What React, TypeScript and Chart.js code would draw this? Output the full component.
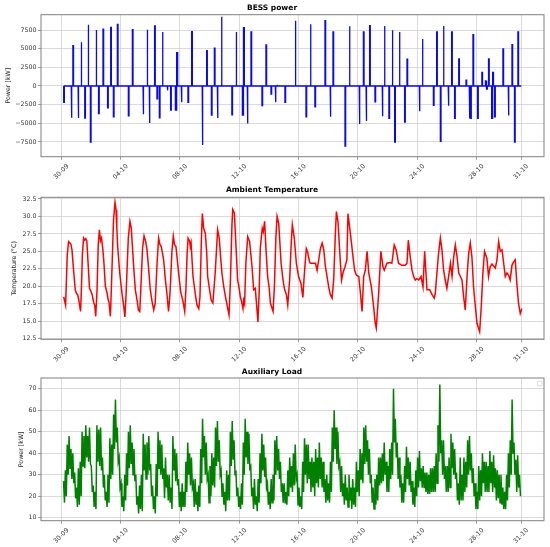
import React, { useEffect, useRef } from 'react';
import { Chart, ChartConfiguration, registerables } from 'chart.js';

Chart.register(...registerables);

const FONT = "'DejaVu Sans', sans-serif";

// x axis: days counted from 30-09 00:00
const dayTicks = [0, 4, 8, 12, 16, 20, 24, 28, 31];
const dayTickLabels = ['30-09', '04-10', '08-10', '12-10', '16-10', '20-10', '24-10', '28-10', '31-10'];

// BESS power: [day, kW] pulses, line sits at 0 between them
const bessEvents: [number, number][] = [
  [0.16, -2200], [0.67, -4260], [0.78, 5420], [1.13, -4300], [1.33, 5860], [1.58, -4300],
  [1.8, 8200], [1.96, -7500], [2.34, 7500], [2.51, -3700], [2.81, 7600], [3.12, -2930],
  [3.33, 7860], [3.51, -4130], [3.78, 8260], [4.52, -4000], [4.79, 7550], [5.51, -3770],
  [5.78, 7550], [5.93, -4970], [6.29, 8040], [6.45, -1730], [6.61, -4260], [6.81, 7240],
  [7.14, -580], [7.37, -3240], [7.69, -3240], [7.8, 4480], [8.09, -2180], [8.54, -2180],
  [8.79, 7280], [9.5, -7900], [9.8, 4750], [10.12, -3900], [10.32, 5060], [10.52, -4300],
  [10.79, 9280], [11.5, -3860], [11.78, 7240], [12.21, -3900], [12.3, 7810], [12.54, -5020],
  [12.79, 7240], [13.53, -2620], [13.8, 5500], [14.14, -1100], [14.43, -2180], [14.55, 180],
  [15.08, -2180], [15.77, 8750], [16.5, -4130], [16.79, 8260], [17.1, -2800], [17.78, 8750],
  [18.13, -4130], [18.32, 7240], [19.13, -8040], [19.42, 7990], [20.09, -5100], [20.37, 7240],
  [20.55, -4700], [20.79, 8080], [21.15, -2130], [21.64, -4040], [21.78, 8040], [22.09, -4350],
  [22.31, 7460], [22.48, -7500], [22.79, 7240], [23.15, -4840], [23.31, 3600], [24.14, -3370],
  [24.34, 6300], [25.09, -2580], [25.31, 7240], [25.56, -7410], [25.76, 8040], [26.09, -2660],
  [26.32, 7240], [26.52, -4350], [26.8, 3640], [27.29, 800], [27.51, -4350], [27.6, -4350],
  [27.76, 6880], [28.07, -4350], [28.36, 1820], [28.6, 670], [28.69, -400], [28.81, 3640],
  [29.02, -4350], [29.1, 1820], [29.22, -4130], [29.78, 4970], [30.14, -3950], [30.39, 5550],
  [30.56, -7500], [30.79, 7240],
];
const bessEndDay = 31.02;
const pulseWidth = 0.045;

// Ambient temperature: [day, °C]
const ambientTemp: [number, number][] = [
  [0.16, 18.5], [0.29, 17.3], [0.4, 24.5], [0.49, 26.4], [0.58, 26.2], [0.65, 26.0], [0.72, 25.2], [0.8, 23.0],
  [0.94, 19.5], [1.02, 19.0], [1.1, 18.8], [1.18, 18.0], [1.23, 17.3], [1.3, 16.4], [1.36, 20.0], [1.42, 24.5],
  [1.5, 26.9], [1.58, 26.6], [1.65, 26.8], [1.72, 26.5], [1.8, 23.5], [1.9, 19.7], [1.98, 19.4],
  [2.08, 18.8], [2.17, 17.8], [2.26, 17.2], [2.32, 15.7], [2.41, 19.5], [2.49, 26.0], [2.57, 28.1], [2.64, 26.5],
  [2.71, 26.9], [2.79, 25.5], [2.86, 23.8], [2.97, 20.0], [3.09, 19.0], [3.15, 18.2], [3.22, 17.6], [3.31, 15.7],
  [3.38, 20.0], [3.52, 29.5], [3.62, 32.0], [3.69, 30.9], [3.74, 28.5], [3.8, 25.7], [3.94, 21.9], [4.09, 19.0],
  [4.2, 17.3], [4.29, 15.6], [4.37, 19.0], [4.52, 27.0], [4.63, 29.3], [4.72, 28.3], [4.8, 25.5], [4.88, 22.8],
  [4.99, 19.5], [5.11, 18.0], [5.2, 16.6], [5.29, 16.4], [5.37, 20.0], [5.48, 25.5], [5.58, 27.2], [5.69, 26.4],
  [5.78, 25.2], [5.87, 23.0], [6.0, 19.5], [6.12, 17.8], [6.23, 16.6], [6.33, 17.5], [6.45, 23.0], [6.56, 26.9],
  [6.65, 26.0], [6.74, 25.7], [6.9, 23.8], [7.01, 21.1], [7.12, 19.0], [7.23, 16.4], [7.33, 19.0], [7.46, 25.0],
  [7.55, 27.2], [7.63, 26.0], [7.73, 25.7], [7.91, 21.9], [8.05, 19.2], [8.21, 17.8], [8.32, 16.4], [8.4, 19.5],
  [8.48, 24.5], [8.55, 26.9], [8.65, 26.5], [8.7, 25.7], [8.75, 26.2], [8.88, 21.4], [9.04, 18.8], [9.15, 17.3],
  [9.27, 16.8], [9.35, 18.5], [9.45, 27.0], [9.51, 30.4], [9.6, 28.3], [9.71, 27.6], [9.8, 25.0], [9.87, 21.4],
  [10.0, 19.5], [10.11, 18.0], [10.22, 17.6], [10.38, 22.0], [10.54, 28.1], [10.65, 26.9], [10.75, 24.0], [10.83, 21.9],
  [10.95, 20.0], [11.07, 18.5], [11.18, 17.3], [11.31, 15.9], [11.4, 20.5], [11.51, 29.0], [11.56, 31.0], [11.67, 30.5],
  [11.78, 25.7], [11.89, 20.9], [12.01, 19.5], [12.07, 18.5], [12.16, 17.8], [12.25, 16.8], [12.3, 18.0], [12.36, 17.5],
  [12.45, 23.5], [12.57, 27.1], [12.7, 26.4], [12.86, 22.8], [12.97, 19.5], [13.08, 19.7], [13.19, 16.8], [13.26, 14.9],
  [13.34, 19.0], [13.42, 25.5], [13.55, 28.3], [13.62, 27.8], [13.71, 29.3], [13.81, 25.0], [13.91, 21.5], [14.03, 19.5],
  [14.1, 17.6], [14.28, 16.4], [14.37, 20.0], [14.47, 27.0], [14.55, 30.0], [14.66, 29.0], [14.82, 23.3], [14.95, 20.9],
  [15.04, 19.7], [15.18, 18.8], [15.27, 17.3], [15.4, 21.0], [15.5, 26.0], [15.58, 28.8], [15.71, 26.9], [15.85, 23.3],
  [16.0, 21.4], [16.16, 20.4], [16.29, 18.4], [16.38, 21.5], [16.52, 25.4], [16.61, 24.9], [16.74, 23.5], [16.79, 23.3],
  [16.97, 23.3], [17.14, 23.3], [17.25, 22.3], [17.36, 23.8], [17.47, 25.4], [17.59, 26.2], [17.7, 25.2], [17.81, 22.8],
  [17.92, 21.4], [18.03, 19.9], [18.14, 18.8], [18.26, 18.3], [18.37, 21.0], [18.47, 27.0], [18.55, 30.7], [18.66, 29.2],
  [18.82, 23.3], [18.9, 20.9], [18.99, 21.9], [19.13, 22.8], [19.26, 23.8], [19.33, 30.4], [19.44, 28.5], [19.53, 26.9],
  [19.67, 24.2], [19.78, 22.3], [19.89, 21.6], [20.06, 21.4], [20.17, 19.0], [20.28, 16.4], [20.39, 21.4], [20.5, 22.3],
  [20.62, 25.0], [20.73, 21.9], [20.91, 19.9], [21.06, 17.1], [21.17, 14.7], [21.24, 14.0], [21.4, 19.0], [21.55, 25.0],
  [21.69, 22.8], [21.78, 22.3], [21.96, 23.3], [22.18, 23.4], [22.29, 23.3], [22.45, 25.9], [22.58, 25.2], [22.74, 23.3],
  [22.96, 23.0], [23.2, 23.0], [23.31, 23.3], [23.4, 26.6], [23.53, 24.2], [23.65, 22.3], [23.76, 21.4], [23.87, 20.9],
  [23.98, 21.1], [24.1, 20.9], [24.26, 21.4], [24.39, 19.9], [24.5, 25.0], [24.59, 21.9], [24.66, 19.5], [24.84, 19.5],
  [25.0, 18.8], [25.15, 18.3], [25.22, 19.0], [25.33, 21.9], [25.44, 24.7], [25.56, 26.9], [25.67, 25.2], [25.78, 22.3],
  [25.89, 20.9], [26.0, 19.7], [26.13, 21.6], [26.24, 23.3], [26.35, 21.4], [26.46, 24.2], [26.57, 25.9], [26.69, 24.2],
  [26.8, 21.9], [26.91, 21.4], [27.02, 20.9], [27.13, 18.5], [27.24, 16.6], [27.36, 21.4], [27.47, 24.7], [27.58, 26.2],
  [27.69, 24.2], [27.8, 19.9], [27.92, 17.1], [28.03, 14.7], [28.21, 13.5], [28.32, 17.1], [28.43, 21.9], [28.54, 25.0],
  [28.7, 24.0], [28.81, 21.4], [28.92, 22.8], [29.04, 23.2], [29.27, 22.6], [29.38, 23.8], [29.49, 26.4], [29.6, 25.0],
  [29.72, 25.2], [29.83, 23.3], [29.94, 21.4], [30.05, 21.9], [30.16, 21.6], [30.27, 20.9], [30.39, 23.0], [30.5, 23.5],
  [30.61, 23.8], [30.72, 20.4], [30.83, 17.6], [30.95, 16.1], [31.06, 16.8],
];

// Auxiliary load, kW: [upper, lower] edge of the noisy band in every 3 h slot from day 0.15
const auxStartDay = 0.15;
const auxStepDays = 0.125;
const auxBand: [number, number][] = [
  [27, 17], [32, 20], [44, 30], [48, 33], [42, 28], [40, 26], [31, 19],
  [24, 15], [33, 16], [36, 20], [50, 34], [48, 33], [53, 38], [48, 36], [52, 35],
  [34, 22], [25, 15], [22, 14], [53, 36], [51, 34], [52, 32], [38, 24], [30, 18],
  [22, 15], [30, 17], [47, 28], [44, 30], [58, 42], [65, 45], [52, 36], [38, 24],
  [26, 15], [20, 13], [30, 18], [40, 25], [50, 33], [53, 35], [45, 30], [42, 27],
  [30, 16], [20, 12], [25, 14], [30, 13], [49, 32], [44, 28], [45, 30], [48, 32],
  [35, 20], [25, 14], [20, 12], [35, 20], [50, 33], [46, 30], [44, 28], [33, 19],
  [38, 24], [30, 18], [30, 17], [24, 14], [48, 32], [42, 27], [40, 25], [28, 15],
  [22, 13], [26, 15], [22, 15], [36, 22], [45, 30], [40, 25], [38, 24], [26, 15],
  [28, 16], [22, 13], [25, 15], [42, 26], [56, 38], [48, 30], [45, 28], [30, 17],
  [34, 20], [40, 25], [38, 24], [52, 34], [55, 36], [46, 30], [32, 20], [26, 16],
  [22, 13], [32, 18], [30, 18], [50, 34], [55, 37], [46, 30], [32, 20], [24, 15],
  [20, 14], [26, 16], [45, 30], [56, 38], [50, 35], [49, 33], [34, 20], [24, 14],
  [28, 16], [20, 13], [28, 17], [40, 26], [49, 32], [44, 29], [38, 24], [26, 16],
  [22, 14], [28, 17], [30, 18], [46, 30], [48, 32], [42, 28], [36, 22], [26, 17],
  [26, 17], [22, 16], [32, 20], [38, 24], [34, 22], [40, 25], [44, 28], [30, 16],
  [24, 15], [20, 14], [36, 22], [47, 30], [44, 26], [44, 28], [36, 22], [38, 24],
  [36, 20], [42, 26], [38, 24], [45, 28], [38, 24], [36, 22], [28, 17], [30, 18],
  [26, 17], [36, 22], [52, 36], [60, 42], [52, 35], [50, 34], [36, 22], [34, 20],
  [26, 16], [30, 18], [24, 15], [30, 18], [24, 14], [28, 16], [24, 15], [36, 22],
  [32, 20], [42, 28], [40, 26], [52, 35], [53, 36], [46, 30], [42, 26], [30, 17],
  [24, 14], [28, 16], [30, 18], [38, 25], [38, 26], [40, 27], [45, 30], [36, 22],
  [34, 22], [42, 28], [45, 30], [70, 45], [56, 38], [45, 28], [38, 24], [30, 17],
  [26, 17], [34, 22], [43, 28], [38, 25], [36, 22], [27, 16], [24, 15], [32, 20],
  [38, 24], [41, 27], [33, 24], [34, 24], [31, 22], [31, 21], [30, 21], [33, 22],
  [33, 22], [34, 22], [40, 26], [53, 36], [72, 40], [46, 30], [46, 28], [34, 22],
  [34, 22], [38, 24], [49, 33], [45, 30], [42, 28], [31, 18], [26, 16], [38, 18],
  [30, 18], [38, 22], [36, 24], [46, 30], [48, 32], [40, 26], [33, 20], [26, 14],
  [22, 14], [34, 18], [32, 20], [40, 26], [36, 22], [36, 22], [34, 22], [41, 26],
  [36, 22], [39, 24], [33, 18], [32, 19], [30, 17], [30, 16], [24, 14], [22, 14],
  [30, 18], [40, 24], [46, 30], [65, 40], [45, 30], [37, 22], [39, 24], [30, 20],
];

const bessTicks = [-7500, -5000, -2500, 0, 2500, 5000, 7500];
const tempTicks = [12.5, 15, 17.5, 20, 22.5, 25, 27.5, 30, 32.5];
const auxTicks = [10, 20, 30, 40, 50, 60, 70];

const X_MIN = -1.37;
const X_MAX = 32.55;

const bessPoints = () => {
  const pts: { x: number; y: number }[] = [];
  for (const [d, v] of bessEvents) {
    pts.push({ x: d, y: 0 }, { x: d, y: v }, { x: d + pulseWidth, y: v }, { x: d + pulseWidth, y: 0 });
  }
  pts.push({ x: bessEndDay, y: 0 });
  return pts;
};

const auxPoints = () => {
  const pts: { x: number; y: number }[] = [];
  auxBand.forEach(([hi, lo], i) => {
    const t = auxStartDay + i * auxStepDays;
    pts.push({ x: t, y: hi }, { x: t + auxStepDays / 2, y: lo });
  });
  return pts;
};

const framePlugin = {
  id: 'frame',
  afterDatasetsDraw(chart: Chart) {
    const { ctx, chartArea: a } = chart;
    ctx.save();
    ctx.strokeStyle = '#808080';
    ctx.lineWidth = 1;
    ctx.strokeRect(a.left, a.top, a.right - a.left, a.bottom - a.top);
    ctx.restore();
  },
};

// matplotlib leaves an empty legend frame in the corner of the last panel
const emptyLegendPlugin = {
  id: 'emptyLegend',
  afterDatasetsDraw(chart: Chart) {
    const { ctx, chartArea: a } = chart;
    ctx.save();
    ctx.fillStyle = '#fff';
    ctx.strokeStyle = '#d6d6d6';
    ctx.lineWidth = 0.8;
    ctx.fillRect(a.right - 6.5, a.top + 3.3, 4.5, 4.5);
    ctx.strokeRect(a.right - 6.5, a.top + 3.3, 4.5, 4.5);
    ctx.restore();
  },
};

interface PanelSpec {
  height: number;
  title: string;
  titleTop: number;
  titleBottom: number;
  xAxisHeight: number;
  yTitle: string;
  yTitleX: number;
  yMin: number;
  yMax: number;
  yTicks: number[];
  fmt: (v: number) => string;
  color: string;
  lineWidth: number;
  data: { x: number; y: number }[];
  legendBox?: boolean;
}

const tickFont = { family: FONT, size: 6.3 };
const gridOpts = { color: '#d0d0d0', lineWidth: 0.8, tickLength: 3, tickColor: '#808080', tickWidth: 0.8 };

function buildConfig(p: PanelSpec): ChartConfiguration {
  return {
    type: 'line',
    data: {
      datasets: [
        {
          data: p.data,
          borderColor: p.color,
          borderWidth: p.lineWidth,
          pointRadius: 0,
          tension: 0,
          fill: false,
        },
      ],
    },
    options: {
      animation: false,
      responsive: false,
      events: [],
      layout: { padding: { left: 0, right: 6, top: 0, bottom: 0 } },
      plugins: {
        legend: { display: false },
        tooltip: { enabled: false },
        title: {
          display: true,
          text: p.title,
          color: '#000',
          font: { family: FONT, size: 7.5, weight: 'bold' },
          padding: { top: p.titleTop, bottom: p.titleBottom },
        },
      },
      scales: {
        x: {
          type: 'linear',
          min: X_MIN,
          max: X_MAX,
          afterBuildTicks: (s: any) => {
            s.ticks = dayTicks.map((v) => ({ value: v }));
          },
          afterFit: (s: any) => {
            s.height = p.xAxisHeight;
          },
          ticks: {
            autoSkip: false,
            minRotation: 45,
            maxRotation: 45,
            labelOffset: 6.5,
            padding: 3,
            color: '#333',
            font: tickFont,
            callback: (v: any) => dayTickLabels[dayTicks.indexOf(Number(v))] ?? '',
          },
          grid: gridOpts,
          border: { display: false },
        },
        y: {
          type: 'linear',
          min: p.yMin,
          max: p.yMax,
          afterBuildTicks: (s: any) => {
            s.ticks = p.yTicks.map((v) => ({ value: v }));
          },
          afterFit: (s: any) => {
            s.width = 41;
          },
          ticks: {
            padding: 1.5,
            color: '#333',
            font: tickFont,
            callback: (v: any) => p.fmt(Number(v)),
          },
          grid: gridOpts,
          border: { display: false },
          title: {
            display: true,
            text: p.yTitle,
            color: '#222',
            font: tickFont,
            padding: { top: p.yTitleX - 3.78, bottom: 0 },
          },
        },
      },
    } as any,
    plugins: p.legendBox ? [framePlugin, emptyLegendPlugin] : [framePlugin],
  };
}

const Panel: React.FC<{ spec: PanelSpec }> = ({ spec }) => {
  const canvasRef = useRef<HTMLCanvasElement>(null);

  useEffect(() => {
    if (!canvasRef.current) return;
    const chart = new Chart(canvasRef.current, buildConfig(spec));
    return () => {
      chart.destroy();
    };
  }, [spec]);

  return (
    <canvas
      ref={canvasRef}
      width={550}
      height={spec.height}
      style={{ display: 'block', width: 550, height: spec.height }}
    />
  );
};

const minus = (v: number) => (v < 0 ? '\u2212' + Math.abs(v) : String(v));

const panels: PanelSpec[] = [
  {
    height: 180,
    title: 'BESS power',
    titleTop: 3.3,
    titleBottom: 2.4,
    xAxisHeight: 23.3,
    yTitle: 'Power [kW]',
    yTitleX: 8.5,
    yMin: -9470,
    yMax: 9550,
    yTicks: bessTicks,
    fmt: minus,
    color: 'rgb(10, 10, 230)',
    lineWidth: 1.3,
    data: bessPoints(),
  },
  {
    height: 182,
    title: 'Ambient Temperature',
    titleTop: 5.5,
    titleBottom: 2.8,
    xAxisHeight: 22.7,
    yTitle: 'Temperature (°C)',
    yTitleX: 14.8,
    yMin: 12.41,
    yMax: 32.74,
    yTicks: tempTicks,
    fmt: (v) => v.toFixed(1),
    color: 'rgb(255, 0, 0)',
    lineWidth: 1.5,
    data: ambientTemp.map(([x, y]) => ({ x, y })),
  },
  {
    height: 185,
    title: 'Auxiliary Load',
    titleTop: 5.5,
    titleBottom: 1.5,
    xAxisHeight: 26.3,
    yTitle: 'Power [kW]',
    yTitleX: 21.7,
    yMin: 8.6,
    yMax: 74.98,
    yTicks: auxTicks,
    fmt: (v) => String(v),
    color: '#008000',
    lineWidth: 1.5,
    data: auxPoints(),
    legendBox: true,
  },
];

export default function App() {
  return (
    <div style={{ position: 'absolute', left: 0, top: 0, width: 550, height: 547, background: '#fff' }}>
      {panels.map((p) => (
        <Panel key={p.title} spec={p} />
      ))}
    </div>
  );
}
